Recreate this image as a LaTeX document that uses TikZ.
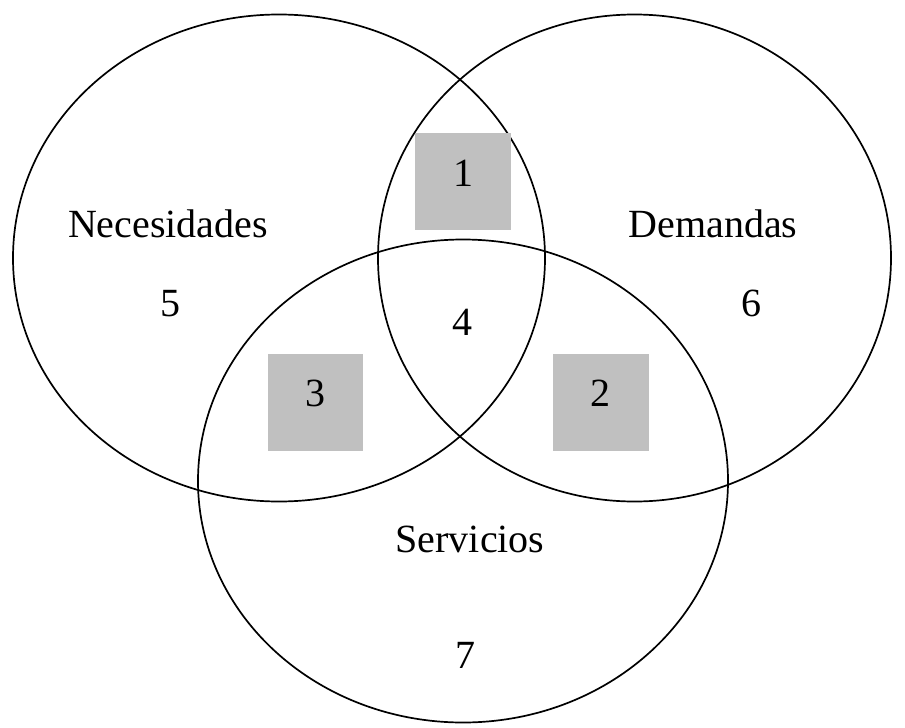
\documentclass[tikz,border=0pt]{standalone}
\usepackage{fontspec}
\setmainfont{Liberation Serif}
\usetikzlibrary{shapes.geometric}
\definecolor{boxgray}{RGB}{192,192,192}
\tikzset{
  setring/.style={draw=black, line width=1.7pt, ellipse, inner sep=0pt},
  graybox/.style={fill=boxgray, draw=none, inner sep=0pt, minimum width=96pt, minimum height=97pt},
  lbl/.style={anchor=base, inner sep=0pt, font=\fontsize{40}{48}\selectfont}
}
\begin{document}
\begin{tikzpicture}[x=1pt,y=-1pt]
\useasboundingbox (0,0) rectangle (905,728);
\node[setring, minimum width=532pt, minimum height=487pt] (nec) at (279,258) {};
\node[setring, minimum width=513pt, minimum height=487pt] (dem) at (634.5,258) {};
\node[setring, minimum width=530pt, minimum height=483pt] (ser) at (463,481) {};
\node[graybox] (b1) at (463,181) {};
\node[graybox, minimum width=95pt] (b3) at (315,402) {};
\node[graybox] (b2) at (601,402) {};
\node[lbl] (tnec) at (168,237) {Necesidades};
\node[lbl] (tdem) at (713,237) {Demandas};
\node[lbl] (tser) at (470,552) {Servicios};
\node[lbl] (n1) at (463,186) {1};
\node[lbl] (n2) at (600,406) {2};
\node[lbl] (n3) at (315,406) {3};
\node[lbl] (n4) at (462,335) {4};
\node[lbl] (n5) at (170,316) {5};
\node[lbl] (n6) at (751,316) {6};
\node[lbl] (n7) at (465,668) {7};
\end{tikzpicture}
\end{document}
